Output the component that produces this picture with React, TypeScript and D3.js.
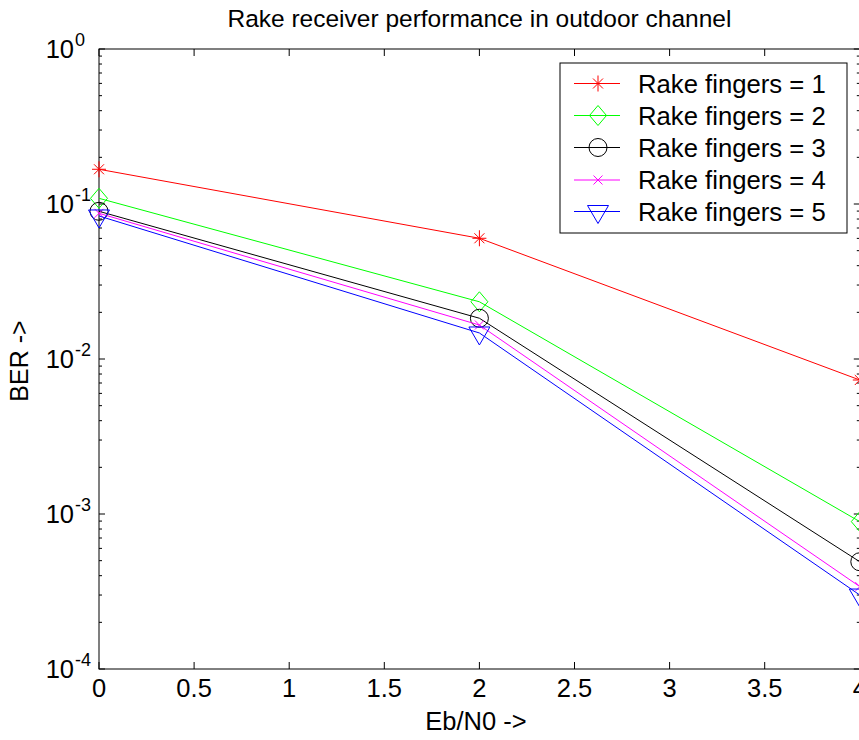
import React from "react";
import * as d3 from "d3";

const ebn0 = [0, 2, 4];
const seriesNames = ["Rake fingers = 1", "Rake fingers = 2", "Rake fingers = 3", "Rake fingers = 4", "Rake fingers = 5"];
const seriesColors = ["#ff0000", "#00ff00", "#000000", "#ff00ff", "#0000ff"];
const seriesMarkers = ["star", "diamond", "circle", "x", "triangle"];
const ber1 = [0.1675, 0.0601, 0.00732];
const ber2 = [0.1088, 0.0234, 0.000893];
const ber3 = [0.0897, 0.01832, 0.000492];
const ber4 = [0.0871, 0.01656, 0.00034];
const ber5 = [0.0837, 0.01472, 0.0003];
const allBer = [ber1, ber2, ber3, ber4, ber5];
const xTicks = [0, 0.5, 1, 1.5, 2, 2.5, 3, 3.5, 4];
const xTickLabels = ["0", "0.5", "1", "1.5", "2", "2.5", "3", "3.5", "4"];
const yDecades = [-4, -3, -2, -1, 0];

const W = 859;
const H = 740;
const L = 99;
const R = 859.8;
const T = 49;
const B = 669;
const FONT = "'Liberation Sans', Arial, Helvetica, sans-serif";

function Marker({ type, x, y, color }: { type: string; x: number; y: number; color: string }) {
  const sw = 1;
  if (type === "star") {
    return (
      <g stroke={color} strokeWidth={sw} fill="none">
        <line x1={x - 7} y1={y} x2={x + 7} y2={y} />
        <line x1={x} y1={y - 8} x2={x} y2={y + 8} />
        <line x1={x - 5} y1={y - 5} x2={x + 5} y2={y + 5} />
        <line x1={x - 5} y1={y + 5} x2={x + 5} y2={y - 5} />
      </g>
    );
  }
  if (type === "diamond") {
    return (
      <path
        d={`M${x},${y - 10}L${x + 8.5},${y}L${x},${y + 10}L${x - 8.5},${y}Z`}
        stroke={color}
        strokeWidth={sw}
        fill="none"
      />
    );
  }
  if (type === "circle") {
    return <circle cx={x} cy={y} r={9} stroke={color} strokeWidth={sw} fill="none" />;
  }
  if (type === "x") {
    return (
      <g stroke={color} strokeWidth={sw}>
        <line x1={x - 4.5} y1={y - 4.5} x2={x + 4.5} y2={y + 4.5} />
        <line x1={x - 4.5} y1={y + 4.5} x2={x + 4.5} y2={y - 4.5} />
      </g>
    );
  }
  return (
    <path
      d={`M${x - 10.5},${y - 6}L${x + 10.5},${y - 6}L${x},${y + 12}Z`}
      stroke={color}
      strokeWidth={sw}
      fill="none"
    />
  );
}

export default function App() {
  const xs = d3.scaleLinear().domain([0, 4]).range([L, R]);
  const ys = d3.scaleLog().domain([1e-4, 1]).range([B, T]);
  const line = d3
    .line<[number, number]>()
    .x((d) => xs(d[0]))
    .y((d) => ys(d[1]));

  const minor: number[] = [];
  for (let k = -4; k < 0; k++) {
    for (let m = 2; m <= 9; m++) minor.push(m * Math.pow(10, k));
  }

  const legX = 560;
  const legY = 63;
  const legW = 287;
  const legH = 170;
  const rowY = [83.5, 115.5, 147.5, 180, 211.5];

  return (
    <svg
      width={W}
      height={H}
      style={{ position: "absolute", left: 0, top: 0, background: "#fff" }}
      fontFamily={FONT}
    >
      <rect x={0} y={0} width={W} height={H} fill="#fff" />
      <defs>
        <clipPath id="plotclip">
          <rect x={L - 15} y={T - 15} width={R - L + 30} height={B - T + 30} />
        </clipPath>
      </defs>

      {/* axes box */}
      <rect x={L} y={T} width={R - L} height={B - T} fill="none" stroke="#000" strokeWidth={1} />

      {/* x ticks */}
      {xTicks.map((t, i) => (
        <g key={"xt" + i}>
          <line x1={xs(t)} y1={B} x2={xs(t)} y2={B - 7} stroke="#000" />
          <line x1={xs(t)} y1={T} x2={xs(t)} y2={T + 7} stroke="#000" />
          <text x={xs(t)} y={697} fontSize={25.5} textAnchor="middle" fill="#000">
            {xTickLabels[i]}
          </text>
        </g>
      ))}

      {/* y major ticks */}
      {yDecades.map((k) => {
        const y = ys(Math.pow(10, k));
        return (
          <g key={"yt" + k}>
            <line x1={L} y1={y} x2={L + 6} y2={y} stroke="#000" />
            <line x1={R} y1={y} x2={R - 6} y2={y} stroke="#000" />
            <text x={74} y={y + 8.5} fontSize={25.5} textAnchor="end" fill="#000">
              10
            </text>
            <text x={75} y={y - 3} fontSize={18} textAnchor="start" fill="#000">
              {String(k)}
            </text>
          </g>
        );
      })}

      {/* y minor ticks */}
      {minor.map((v, i) => {
        const y = ys(v);
        return (
          <g key={"ym" + i}>
            <line x1={L} y1={y} x2={L + 3} y2={y} stroke="#000" />
            <line x1={R} y1={y} x2={R - 3} y2={y} stroke="#000" />
          </g>
        );
      })}

      {/* series */}
      <g clipPath="url(#plotclip)">
        {allBer.map((vals, si) => {
          const pts: [number, number][] = ebn0.map((x, i) => [x, vals[i]]);
          return (
            <g key={"s" + si}>
              <path d={line(pts) || ""} fill="none" stroke={seriesColors[si]} strokeWidth={1} />
              {pts.map((p, i) => (
                <Marker key={i} type={seriesMarkers[si]} x={xs(p[0])} y={ys(p[1])} color={seriesColors[si]} />
              ))}
            </g>
          );
        })}
      </g>

      {/* legend */}
      <rect x={legX} y={legY} width={legW} height={legH} fill="#fff" stroke="#000" strokeWidth={1} />
      {seriesNames.map((name, i) => (
        <g key={"lg" + i}>
          <line x1={574} y1={rowY[i]} x2={620} y2={rowY[i]} stroke={seriesColors[i]} strokeWidth={1} />
          <Marker type={seriesMarkers[i]} x={598} y={rowY[i]} color={seriesColors[i]} />
          <text x={638} y={rowY[i] + 9} fontSize={25.7} fill="#000">
            {name}
          </text>
        </g>
      ))}

      {/* title and labels */}
      <text x={(L + R) / 2} y={27} fontSize={24.5} textAnchor="middle" fill="#000">
        Rake receiver performance in outdoor channel
      </text>
      <text x={476} y={730} fontSize={25.5} textAnchor="middle" fill="#000">
        Eb/N0 -&gt;
      </text>
      <text
        transform={`translate(28,361) rotate(-90)`}
        fontSize={25}
        textAnchor="middle"
        fill="#000"
      >
        BER -&gt;
      </text>
    </svg>
  );
}
